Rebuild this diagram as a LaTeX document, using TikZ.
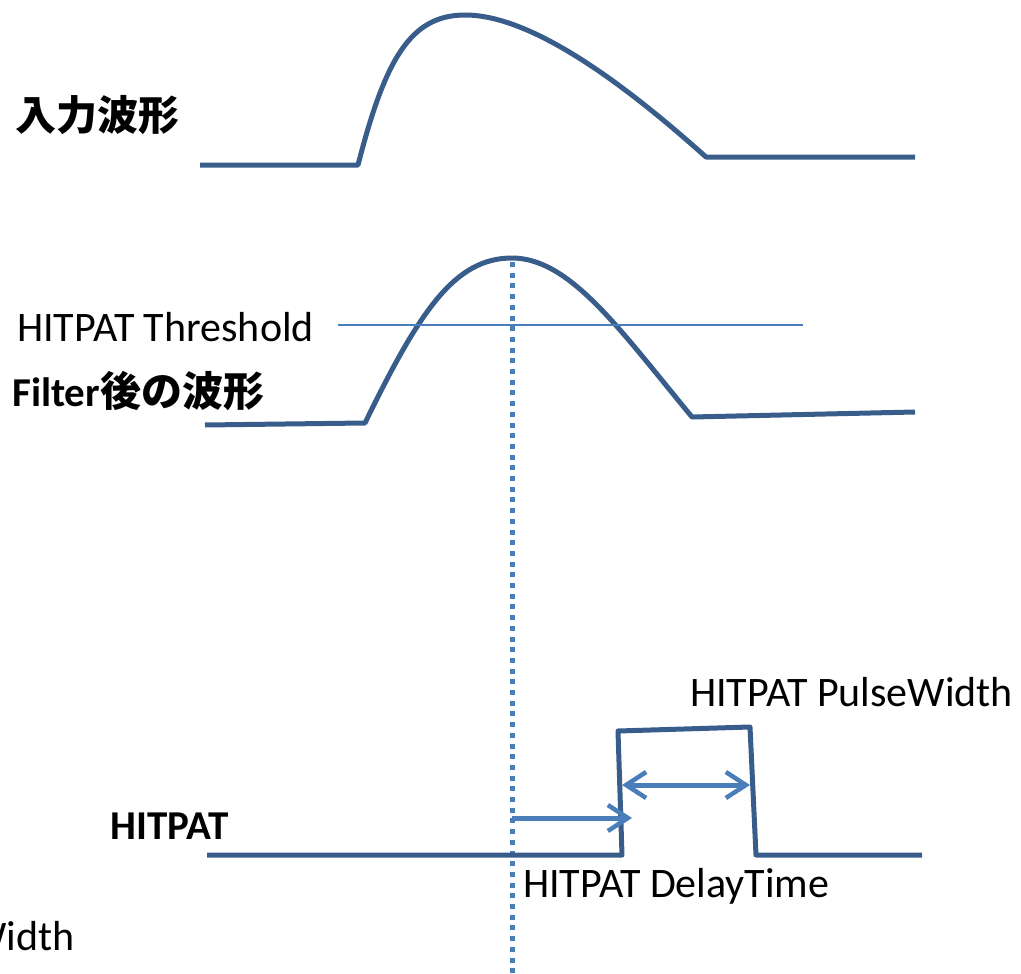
\documentclass[tikz,border=0pt]{standalone}
\usepackage{fontspec}
\setmainfont{Carlito}
\newfontfamily\jpfont{Noto Sans CJK JP}
\usetikzlibrary{arrows.meta, positioning}
\definecolor{waveBlue}{HTML}{385D8A}
\definecolor{markBlue}{HTML}{4A7EBB}
\tikzset{
  barb/.tip        = {Straight Barb[length=20pt, width=26pt, line width=4.5pt]},
  wave/.style      = {waveBlue, line width=5pt, line join=round},
  thresh/.style    = {markBlue, line width=2pt},
  peakline/.style  = {markBlue, line width=5pt, dash pattern=on 5pt off 5.7pt},
  timearrow/.style = {markBlue, line width=5pt},
  lbl/.style       = {font=\fontsize{42}{50}\selectfont, inner sep=0pt},
  blbl/.style      = {font=\fontsize{41}{49}\selectfont\bfseries, inner sep=0pt},
}
\begin{document}
\begin{tikzpicture}[x=1pt, y=-1pt]
  \useasboundingbox (0,0) rectangle (1021,974);
  \clip (0,0) rectangle (1021,974);

  % input waveform
  \draw[wave] (200,165) -- (358,165)
    .. controls (385,60) and (410,15) .. (465,15)
    .. controls (530,15) and (620,80) .. (706,157) -- (915,157);
  \node[blbl, anchor=west] (inlbl) at (15,115) {\jpfont 入力波形};

  % filtered waveform
  \draw[wave] (205,425) -- (365,423)
    .. controls (420,310) and (455,258) .. (512,258)
    .. controls (570,258) and (620,330) .. (692,417) -- (915,412);
  \coordinate (thA) at (338,325);
  \coordinate (thB) at (803,325);
  \draw[thresh] (thA) -- (thB);
  \node[lbl, anchor=west] (thlbl) at (17,327) {HITPAT Threshold};
  \node[blbl, anchor=west] (filtlbl) at (12,391) {Filter{\jpfont 後の波形}};

  % peak marker
  \coordinate (peak) at (512,262);
  \coordinate (peakend) at (512,974);
  \draw[peakline] (peak) -- (peakend);

  % HITPAT output
  \draw[wave] (207,855) -- (622,855) -- (618,731) -- (750,727)
    -- (756,855) -- (922,855);
  \node[blbl, anchor=west] (hitlbl) at (110,826) {HITPAT};

  % delay and width
  \coordinate (dlA) at (512,818);
  \coordinate (dlB) at (632,818);
  \draw[timearrow, -barb] (dlA) -- (dlB);
  \coordinate (pwA) at (622,785);
  \coordinate (pwB) at (750,785);
  \draw[timearrow, barb-barb] (pwA) -- (pwB);
  \node[lbl, anchor=west] (pwlbl) at (690,692) {HITPAT PulseWidth};
  \node[lbl, anchor=west] (dllbl) at (523,886) {HITPAT DelayTime};
  \node[lbl, anchor=east] (pwlbl2) at (75,936) {HITPAT PulseWidth};
\end{tikzpicture}
\end{document}
